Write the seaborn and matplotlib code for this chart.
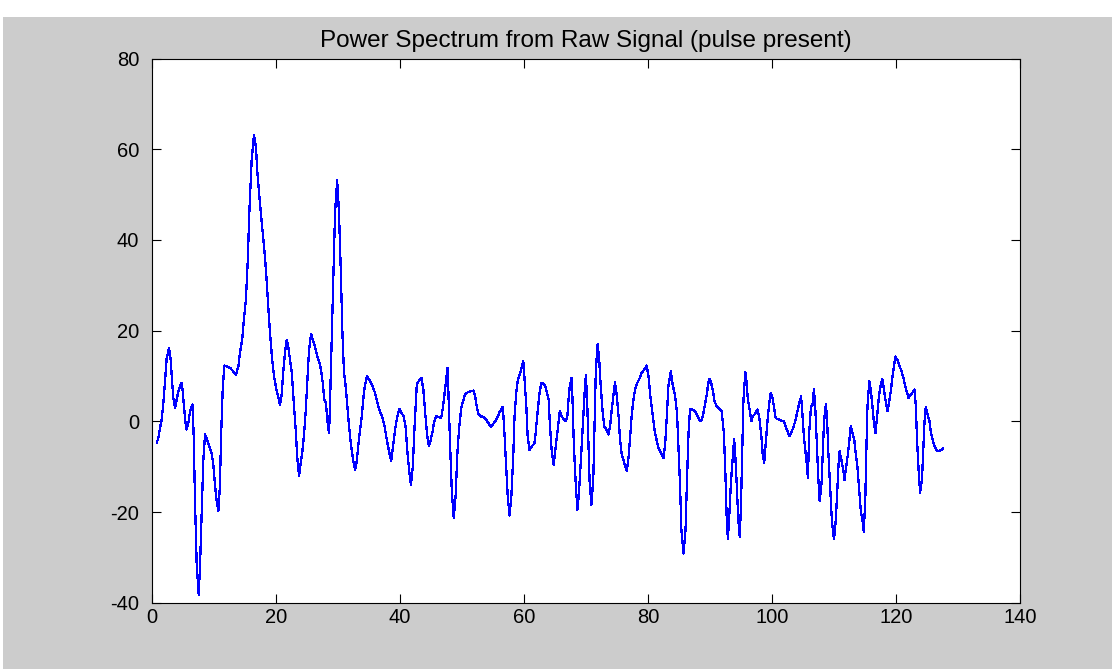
import matplotlib
matplotlib.use("Agg")
import matplotlib.pyplot as plt
from matplotlib.patches import Rectangle
import seaborn as sns
import pandas as pd

# Frequency bins and power values of the raw-signal spectrum
freq = [
    0.8, 1.07, 1.34, 1.61, 1.88, 2.15, 2.41, 2.79, 3.06, 3.27, 3.49, 3.76, 4.03, 4.30, 4.56, 4.83,
    5.0, 5.21, 5.42, 5.64, 5.91, 6.18, 6.45, 6.61, 6.77, 6.98, 7.25, 7.58, 7.79, 8.06, 8.33, 8.60,
    8.87, 9.13, 9.40, 9.67, 9.94, 10.2, 10.48, 10.75, 11.0, 11.18, 11.45, 11.71, 12.09, 12.63, 13.17,
    13.6, 13.97, 14.24, 14.62, 14.89, 15.2, 15.48, 15.75, 16.12, 16.5, 16.82, 17.03, 17.36, 17.68,
    18.0, 18.28, 18.54, 18.81, 19.08, 19.4, 19.73, 20.05, 20.37, 20.69, 20.96, 21.2, 21.5,
    21.77, 22.04, 22.3, 22.6, 22.84, 23.2, 23.5, 23.76, 24.03, 24.3, 24.56, 24.83, 25.1, 25.37,
    25.7, 25.96, 26.23, 26.5, 26.77, 27.04, 27.3, 27.58, 27.84, 28.1, 28.33, 28.6, 28.76, 29.03,
    29.3, 29.56, 29.9, 30.2, 30.5, 30.75, 31.0, 31.3, 31.55, 31.8, 32.1, 32.47, 32.8, 33.06, 33.3,
    33.6, 33.87, 34.1, 34.4, 34.7, 35.05, 35.37, 35.7, 36.0, 36.28, 36.55, 36.9, 37.25, 37.6,
    37.95, 38.27, 38.6, 38.92, 39.24, 39.6, 39.94, 40.3, 40.64, 40.96, 41.2, 41.5, 41.8, 42.1, 42.36,
    42.74, 43.1, 43.5, 43.8, 44.1, 44.4, 44.7, 45.0, 45.3, 45.5, 45.86, 46.2, 46.66, 46.9, 47.2,
    47.47, 47.7, 47.85, 48.1, 48.4, 48.7, 49.0, 49.3, 49.6, 49.9, 50.2, 50.5, 50.96, 51.45, 51.9,
    52.15, 52.4, 52.7, 53.06, 53.5, 53.9, 54.3, 54.7, 55.0, 55.4, 55.7, 56.0, 56.34, 56.6, 56.8,
    57.1, 57.4, 57.7, 58.0, 58.3, 58.5, 58.8, 59.03, 59.35, 59.7, 59.9, 60.1, 60.4, 60.6, 60.9,
    61.3, 61.7, 61.9, 62.2, 62.5, 62.8, 63.2, 63.5,
    64.0, 64.2, 64.5, 64.8, 65.05, 65.3, 65.6, 65.8, 66.1, 66.4, 66.8, 67.04, 67.2, 67.4, 67.7,
    67.85, 68.06, 68.4, 68.65, 68.9, 69.2, 69.5, 69.8, 70.0, 70.2, 70.4, 70.6, 70.9, 71.2, 71.4,
    71.6, 71.9, 72.15, 72.4, 72.7, 72.96, 73.3, 73.65, 73.9, 74.2, 74.5, 74.7, 75.0, 75.3, 75.5,
    75.8, 76.2, 76.6, 76.9, 77.15, 77.4, 77.7, 78.0, 78.3, 78.7, 79.0, 79.4, 79.8, 80.1, 80.4,
    80.8, 81.1, 81.4, 81.7, 82.1, 82.5, 82.8, 83.07, 83.3, 83.7, 84.0,
    84.4, 84.7, 84.9, 85.2, 85.4, 85.74, 86.07, 86.3, 86.55, 86.8, 87.2, 87.6, 87.95, 88.3, 88.6,
    88.9, 89.2, 89.5, 89.7, 89.9, 90.2, 90.5, 90.75, 91.1, 91.55, 91.9, 92.25, 92.5, 92.7, 92.9,
    93.1, 93.4, 93.7, 93.9, 94.1, 94.35, 94.56, 94.8, 95.0, 95.2, 95.4, 95.7, 95.9, 96.1, 96.4,
    96.7, 96.9, 97.2, 97.5, 97.7, 98.0, 98.3, 98.5, 98.75, 99.0, 99.3, 99.56, 99.8, 100.1, 100.4,
    100.6, 101.1, 101.5, 101.9, 102.1, 102.5, 102.8, 103.1, 103.4, 103.75, 104.1, 104.4, 104.7,
    104.9, 105.15,
    105.6, 105.8, 106.0, 106.3, 106.55, 106.77, 107.0, 107.25, 107.5, 107.7, 108.0, 108.2, 108.4,
    108.7, 108.9, 109.1, 109.4, 109.67, 110.0, 110.26, 110.5, 110.7, 110.9, 111.2, 111.5, 111.7,
    111.9, 112.2, 112.5, 112.7, 113.0, 113.3, 113.5, 113.8, 114.1, 114.35, 114.6, 114.8, 115.05,
    115.2, 115.4, 115.7, 115.96, 116.2, 116.45, 116.7, 117.0, 117.25, 117.5, 117.8, 118.0, 118.3,
    118.65, 118.9, 119.2, 119.4, 119.7, 119.9, 120.2, 120.5, 120.8, 121.2, 121.5, 121.8, 122.0,
    122.4, 122.7, 123.0, 123.2, 123.4, 123.7, 123.9, 124.2, 124.4, 124.6, 124.8, 125.1, 125.4,
    125.6, 125.9, 126.2, 126.6, 126.9, 127.3, 127.6,
]

power = [
    -4.8, -3.7, -1.5, 0.4, 4, 8.8, 13.8, 16.2, 13.6, 9.2, 5.2, 2.9, 4.8, 6.6, 7.7, 8.5,
    6.6, 3.3, 0, -1.8, -0.4, 2.2, 3.3, 3.7, -3.3, -17.3, -31.2, -38.2, -32, -20.6, -8.5, -2.9,
    -3.7, -4.8, -5.9, -7, -9.6, -14, -17.6, -19.8, -14.3, -3.7, 7, 12.3, 12.1, 11.8, 11,
    10.3, 12.1, 15.1, 18.4, 22.8, 27, 35.1, 46.3, 57.7, 63.2, 60.3, 55.1, 49.6, 44.9,
    40.1, 36, 30.9, 25, 19.5, 14, 9.9, 7.4, 5.5, 3.7, 5.9, 10.7, 15.4,
    18, 16.2, 13.6, 10.7, 5.5, -1.5, -8.5, -12.1, -9.2, -6.6, -2.9, 2.2, 9.2, 15.8,
    19.3, 18, 16.9, 15.4, 14, 12.9, 11.4, 8.5, 4.8, 4, 0, -2.6, 4.4, 18.4,
    32, 46, 53.2, 46, 32.7, 19.5, 11, 7.4, 3.3, -0.7, -4.8, -8.5, -10.7, -8.8, -5.5,
    -1.8, 1.1, 4.8, 8.1, 9.9, 9.2, 8.5, 7.4, 6.3, 4.8, 3.3, 1.8, 0.7, -1.5,
    -4.4, -6.6, -8.8, -5.5, -1.8, 1.1, 2.7, 1.8, 1.1, -1.5, -6.3, -10.7, -14, -9.9, -1.8,
    8.1, 9, 9.6, 7, 1.8, -2.9, -5.5, -4, -2.2, -0.4, 1.1, 1.0, 0.7, 2.6, 5.9,
    9.2, 11.8, 5.9, -4.8, -15.8, -21.3, -16.5, -6.6, -1.1, 2.9, 4.4, 5.9, 6.4, 6.6, 6.8,
    5.5, 3.3, 1.5, 1.1, 1.0, 0.4, -0.4, -1.2, -0.7, 0, 0.7, 1.8, 2.6, 3.2, -0.7,
    -8.8, -16.5, -20.8, -16.2, -7.4, 1.1, 6.6, 9.2, 10.3, 12.1, 13.4, 9.6, 3.3, -2.9, -6.3,
    -5.5, -4.9, -2.6, 1.8, 5.9, 8.5, 8.3, 7.6,
    4.8, -0.7, -6.6, -9.6, -6.6, -3.7, 0, 2.2, 1.1, 0.5, 0, 1.5, 4.8, 7.7, 9.6,
    4.8, -5.1, -14.7, -19.5, -15.4, -8.5, -1.1, 6.3, 10.3, 4.8, -4, -13.2, -18.4, -12.5, -0.7,
    11, 17.1, 13.6, 7.7, 2.2, -1.1, -1.8, -2.9, -1.1, 2.9, 6.3, 8.6, 5.5, 0.7, -4,
    -7.4, -9.2, -11, -7.7, -3.3, 1.5, 5.1, 7.4, 8.5, 9.6, 10.7, 11.4, 12.3, 9.9, 5.5,
    1.1, -2.2, -4, -5.9, -7, -8.1, -4.8, 1.5, 7.7, 11, 8.1,
    5.5, 1.8, -4.8, -14.7, -23.9, -29.2, -23.9, -13.2, -2.6, 2.7, 2.6, 2.2, 1.3, 0.4, 0,
    1.5, 3.7, 5.9, 8.1, 9.4, 8.5, 6.6, 4.4, 3.3, 2.7, 2.2, -2.6, -11.8, -21, -26,
    -21.3, -13.2, -7.7, -3.9, -7.7, -14.7, -21.3, -25.4, -19.1, -7.4, 4.4, 10.9, 8.8, 5.1, 2.6,
    0, 1.1, 1.5, 2.2, 2.6, 0.4, -3.3, -7, -9.2, -4.8, 0.4, 4, 6.3, 5.1, 2.6,
    0.7, 0.4, 0.2, 0, -0.7, -2.2, -3.3, -2.6, -1.5, 0, 2.2, 4, 5.5,
    1.8, -3.3,
    -9.2, -12.5, -2.6, 3.3, 3.7, 7.1, 2.6, -5.5, -13.2, -17.6, -13.6, -7, 0,
    3.9, 0, -7, -15.1, -22.1, -26, -22.4, -16.5, -10.3, -6.6, -8.5, -10.7, -12.9,
    -10.7, -7.7, -4, -1.1, -2.6, -4.4, -7, -10.3, -15.8, -20.2, -21.7, -24.3, -17.3,
    -7.7, 3.3, 8.8, 6.6, 3.3, -0.4, -2.6, 1.8, 5.5, 7.7, 9.3, 7.6, 4.8,
    2.2, 4.4, 7, 9.6, 12.5, 14.3, 13.6, 12.5, 11.4, 9.6, 7.7, 6.3, 5.1,
    5.9, 6.4, 7, 3.3, -4.4, -12.1, -15.7, -12.5, -6.3, 0, 3.2, 1.5, 0,
    -2.2, -4, -5.5, -6.4, -6.6, -6.3, -5.9,
]

x_ticks = [0, 20, 40, 60, 80, 100, 120, 140]
y_ticks = [-40, -20, 0, 20, 40, 60, 80]
title = "Power Spectrum from Raw Signal (pulse present)"

sns.set_theme(style="white")
plt.rcParams["font.family"] = ["Liberation Sans", "DejaVu Sans"]
plt.rcParams["axes.unicode_minus"] = False
plt.rcParams["xtick.direction"] = "in"
plt.rcParams["ytick.direction"] = "in"

df = pd.DataFrame({"freq": freq, "power": power})

fig = plt.figure(figsize=(11.12, 6.69), dpi=100)
fig.patch.set_facecolor("white")
# grey window panel behind the plot
fig.add_artist(Rectangle((3 / 1112, 0), 1 - 3 / 1112, (669 - 17) / 669,
                         transform=fig.transFigure, facecolor="#cccccc",
                         edgecolor="none", zorder=-5))

ax = fig.add_axes([0.1364, 0.0991, 0.9173 - 0.1364, 0.9124 - 0.0991])
ax.set_facecolor("white")

sns.lineplot(data=df, x="freq", y="power", ax=ax, color="#0000ff",
             linewidth=0.9, estimator=None, sort=False, antialiased=False)

ax.set_xlim(0, 140)
ax.set_ylim(-40, 80)
ax.set_xticks(x_ticks)
ax.set_yticks(y_ticks)
ax.set_xlabel("")
ax.set_ylabel("")
ax.tick_params(axis="both", which="both", direction="in", length=6.5, width=0.8,
               color="black", labelsize=14.5, labelcolor="black",
               top=True, right=True, bottom=True, left=True)
ax.tick_params(axis="x", pad=4)
ax.tick_params(axis="y", pad=9)
for side in ax.spines.values():
    side.set_visible(True)
    side.set_color("black")
    side.set_linewidth(0.8)

ax.set_title(title, fontsize=17.5, color="black", pad=8)

fig.savefig("out.png", dpi=100, facecolor=fig.get_facecolor())
